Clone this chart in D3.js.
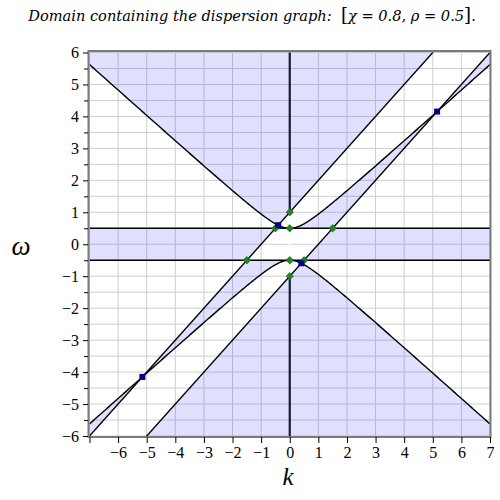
<!DOCTYPE html>
<html>
<head>
<meta charset="utf-8">
<script src="https://cdn.jsdelivr.net/npm/d3@7"></script>
<style>
  html, body { margin: 0; padding: 0; background: #fff; }
  svg { display: block; }
</style>
</head>
<body>
<svg id="chart" width="500" height="500"></svg>
<script>
// ---- data ----
const chi = 0.8;             // χ
const rho = 0.5;             // ρ
const kDomain = [-7, 7];
const wDomain = [-6, 6];
const xTickLabels = [-6, -5, -4, -3, -2, -1, 0, 1, 2, 3, 4, 5, 6, 7];
const xTicks = [-7, -6, -5, -4, -3, -2, -1, 0, 1, 2, 3, 4, 5, 6, 7];
const yTicks = [-6, -5, -4, -3, -2, -1, 0, 1, 2, 3, 4, 5, 6];
const yMinorTicks = [-5.5, -4.5, -3.5, -2.5, -1.5, -0.5, 0.5, 1.5, 2.5, 3.5, 4.5, 5.5];
const greenK = [0, 0, 0, 0, -0.5, 1.5, -1.5, 0.5];
const greenW = [1, -1, 0.5, -0.5, 0.5, 0.5, -0.5, -0.5];
const blueK = [-0.4044, 0.4044, 5.1511, -5.1511];
const blueW = [0.5956, -0.5956, 4.1511, -4.1511];

const SERIF = "'Liberation Serif', 'Times New Roman', serif";

// ---- scales ----
const svg = d3.select("#chart");
const x = d3.scaleLinear().domain(kDomain).range([89.5, 490]);
const y = d3.scaleLinear().domain(wDomain).range([436, 52.5]);

svg.append("defs").append("clipPath").attr("id", "clip")
  .append("rect").attr("x", x(-7)).attr("y", y(6)).attr("width", x(7) - x(-7)).attr("height", y(-6) - y(6));

// ---- grid ----
const grid = svg.append("g").attr("stroke", "#cfcfcf").attr("stroke-width", 1);
grid.selectAll("line.v").data(xTicks).join("line")
  .attr("x1", d => x(d)).attr("x2", d => x(d)).attr("y1", y(6)).attr("y2", y(-6));
grid.selectAll("line.h").data(yTicks.concat(yMinorTicks)).join("line")
  .attr("x1", x(-7)).attr("x2", x(7)).attr("y1", d => y(d)).attr("y2", d => y(d));

// ---- shaded domain: D(k, ω) >= 0 ----
const step = 0.02;
const nx = Math.round((kDomain[1] - kDomain[0]) / step) + 1;
const ny = Math.round((wDomain[1] - wDomain[0]) / step) + 1;
const vals = new Float64Array(nx * ny);
for (let j = 0; j < ny; j++) {
  const w = wDomain[1] - j * step;
  for (let i = 0; i < nx; i++) {
    const k = kDomain[0] + i * step;
    vals[i + j * nx] = (w * w - chi * chi * k * k - rho * rho) * ((w - k) * (w - k) - 1) * (w * w - rho * rho);
  }
}
const contours = d3.contours().size([nx, ny]).thresholds([0])(vals);
const proj = d3.geoTransform({
  point: function(px, py) {
    this.stream.point(x(kDomain[0] + (px - 0.5) * step), y(wDomain[1] - (py - 0.5) * step));
  }
});
svg.append("g").attr("clip-path", "url(#clip)")
  .selectAll("path").data(contours).join("path")
  .attr("d", d3.geoPath(proj))
  .attr("fill", "#0000ff").attr("fill-opacity", 0.12).attr("stroke", "none");

// white gap of the k = 0 line
svg.append("line").attr("x1", x(0)).attr("x2", x(0)).attr("y1", y(1)).attr("y2", y(-1))
  .attr("stroke", "#fff").attr("stroke-width", 2);

// ---- curves ----
const curves = svg.append("g").attr("clip-path", "url(#clip)").attr("fill", "none").attr("stroke", "#000").attr("stroke-width", 1.4);
const ks = d3.range(kDomain[0], kDomain[1] + 1e-9, 0.02);
const line = d3.line().x(d => x(d[0])).y(d => y(d[1]));
// hyperbola branches ω = ±sqrt(χ²k² + ρ²)
[1, -1].forEach(s => {
  curves.append("path").attr("d", line(ks.map(k => [k, s * Math.sqrt(chi * chi * k * k + rho * rho)])));
});
// lines ω = k ± 1
[1, -1].forEach(c => {
  curves.append("path").attr("d", line(kDomain.map(k => [k, k + c])));
});
// ω = ±ρ
[rho, -rho].forEach(w => {
  curves.append("path").attr("d", line(kDomain.map(k => [k, w])));
});
// k = 0 (|ω| >= 1)
[[1, 6], [-6, -1]].forEach(seg => {
  svg.append("line").attr("x1", x(0)).attr("x2", x(0)).attr("y1", y(seg[0])).attr("y2", y(seg[1]))
    .attr("stroke", "#1c1c2c").attr("stroke-width", 2.2);
});

// ---- points ----
svg.append("g").selectAll("rect").data(greenK.map((k, i) => [k, greenW[i]])).join("rect")
  .attr("x", -2.6).attr("y", -2.6).attr("width", 5.2).attr("height", 5.2)
  .attr("transform", d => `translate(${x(d[0])},${y(d[1])}) rotate(45)`)
  .attr("fill", "#1e8a1e").attr("stroke", "#0d5a0d").attr("stroke-width", 0.6);
svg.append("g").selectAll("rect").data(blueK.map((k, i) => [k, blueW[i]])).join("rect")
  .attr("x", d => x(d[0]) - 3).attr("y", d => y(d[1]) - 3).attr("width", 6).attr("height", 6)
  .attr("fill", "#000088");

// ---- frame ----
svg.append("rect").attr("x", 88.5).attr("y", 51).attr("width", 402).attr("height", 386)
  .attr("fill", "none").attr("stroke", "#7a7a7a").attr("stroke-width", 2);

// ---- axes ----
const fmt = d3.format("d");
const yAxis = svg.append("g").attr("transform", "translate(88,0)")
  .call(d3.axisLeft(y).tickValues(yTicks).tickFormat(fmt).tickSize(5).tickPadding(4));
const yMinor = svg.append("g").attr("transform", "translate(88,0)")
  .call(d3.axisLeft(y).tickValues(yMinorTicks).tickFormat("").tickSize(4));
const xAxis = svg.append("g").attr("transform", "translate(0,437)")
  .call(d3.axisBottom(x).tickValues(xTicks).tickFormat(d => xTickLabels.includes(d) ? fmt(d) : "").tickSize(6).tickPadding(4));
[yAxis, yMinor, xAxis].forEach(a => {
  a.attr("font-family", null).attr("font-size", null);
  a.select(".domain").remove();
  a.selectAll(".tick line").attr("stroke", "#000").attr("stroke-width", 1);
  a.selectAll("text").style("font-family", SERIF).style("font-size", "16px").attr("fill", "#000");
});

// ---- labels ----
svg.append("text").attr("x", 21).attr("y", 255).attr("text-anchor", "middle")
  .style("font-family", SERIF).style("font-style", "italic").style("font-size", "27px").text("ω");
svg.append("text").attr("x", 288).attr("y", 485).attr("text-anchor", "middle")
  .style("font-family", SERIF).style("font-style", "italic").style("font-size", "25px").text("k");

const title = svg.append("text").attr("x", 252).attr("y", 21).attr("text-anchor", "middle")
  .style("font-family", "'DejaVu Serif', serif").style("font-size", "14.6px").attr("fill", "#000");
title.append("tspan").style("font-style", "italic").text("Domain containing the dispersion graph:\u00a0\u00a0");
title.append("tspan").style("font-size", "18px").text("[");
title.append("tspan").style("font-style", "italic").text(`χ = ${chi}, ρ = ${rho}`);
title.append("tspan").style("font-size", "18px").text("]");
title.append("tspan").style("font-style", "italic").text(".");
</script>
</body>
</html>
